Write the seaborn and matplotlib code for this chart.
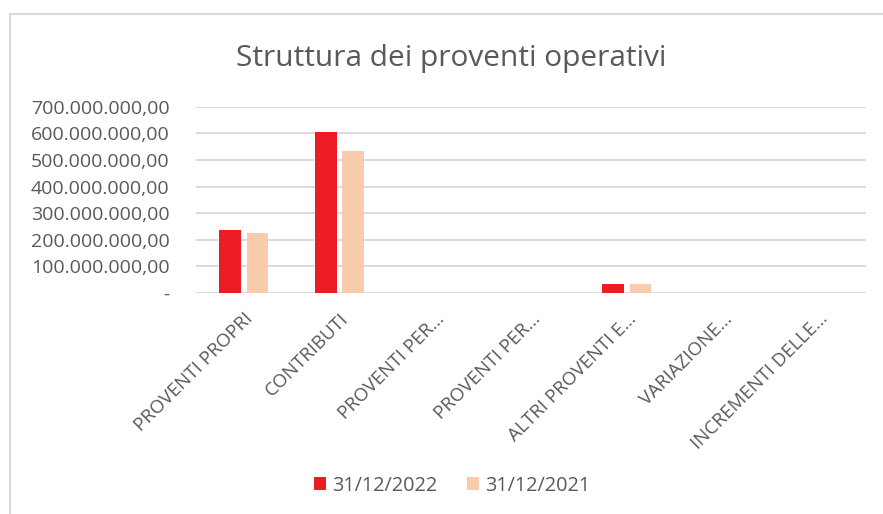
import seaborn as sns
import pandas as pd
import matplotlib.pyplot as plt
from matplotlib.ticker import FuncFormatter
from matplotlib.patches import Rectangle

categories = [
    "PROVENTI PROPRI",
    "CONTRIBUTI",
    "PROVENTI PER...",
    "PROVENTI PER...",
    "ALTRI PROVENTI E...",
    "VARIAZIONE...",
    "INCREMENTI DELLE...",
]
series_names = ["31/12/2022", "31/12/2021"]
values_2022 = [237e6, 604e6, 0, 0, 34e6, 0, 0]
values_2021 = [227e6, 534e6, 0, 0, 33e6, 0, 0]
yticks = [0, 100e6, 200e6, 300e6, 400e6, 500e6, 600e6, 700e6]

# position index keeps the two "PROVENTI PER..." apart
rows = []
for i, cat in enumerate(categories):
    rows.append({"pos": i, "cat": cat, "serie": series_names[0], "val": values_2022[i]})
    rows.append({"pos": i, "cat": cat, "serie": series_names[1], "val": values_2021[i]})
df = pd.DataFrame(rows)

sns.set_theme(style="white")
plt.rcParams['font.family'] = ['Open Sans', 'DejaVu Sans']
text_col = "#595959"

fig = plt.figure(figsize=(8.83, 5.14), dpi=100)
ax = fig.add_axes([0.222, 0.430, 0.759, 0.362])

sns.barplot(x="pos", y="val", hue="serie", data=df, ax=ax,
            palette=["#ED1C24", "#F8CBAD"], width=0.57, gap=0.2,
            saturation=1, errorbar=None, linewidth=0, zorder=3)

ax.set_ylim(0, 700e6)
ax.set_xlim(-0.5, len(categories) - 0.5)
ax.set_yticks(yticks)

def fmt(v, pos):
    if v == 0:
        return "-"
    s = f"{int(v):,}".replace(",", ".")
    return s + ",00"

ax.yaxis.set_major_formatter(FuncFormatter(fmt))
ax.grid(axis="y", color="#d9d9d9", linewidth=1.3, zorder=0)
ax.set_axisbelow(True)
for s in ax.spines.values():
    s.set_visible(False)
ax.tick_params(axis="y", length=0, labelsize=14, labelcolor=text_col, pad=19)
ax.tick_params(axis="x", length=0, labelsize=13.5, labelcolor=text_col, pad=12)
ax.set_xticks(range(len(categories)))
ax.set_xticklabels(categories, rotation=45, ha="right", rotation_mode="anchor")
ax.set_xlabel("")
ax.set_ylabel("")

fig.text(0.511, 0.887, "Struttura dei proventi operativi", ha="center", va="center",
         fontsize=21.5, color=text_col)

handles, labels = ax.get_legend_handles_labels()
leg = ax.legend(handles, labels, loc="center", bbox_to_anchor=(0.512, 0.055),
                bbox_transform=fig.transFigure, ncol=2, frameon=False,
                fontsize=14.3, handlelength=0.6, handleheight=0.6,
                handletextpad=0.3, columnspacing=1.5)
for t in leg.get_texts():
    t.set_color(text_col)

fig.patches.append(Rectangle((10 / 883, -0.05), 1.1, 1 - 14 / 514 + 0.05,
                             transform=fig.transFigure, fill=False,
                             edgecolor="#d9d9d9", linewidth=1.5))

plt.savefig("out.png", dpi=100)
